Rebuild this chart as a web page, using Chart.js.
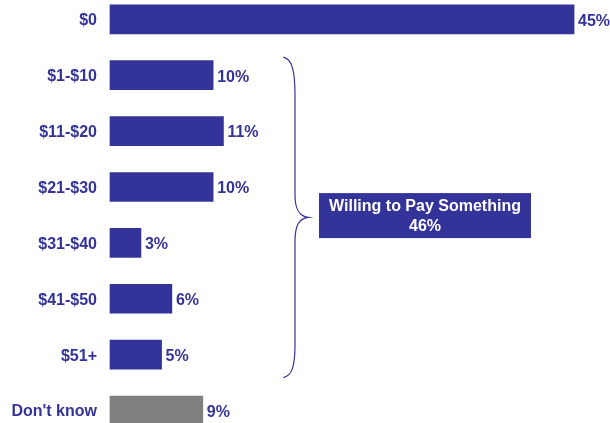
<!DOCTYPE html>
<html>
<head>
<meta charset="utf-8">
<script src="https://cdn.jsdelivr.net/npm/chart.js@4/dist/chart.umd.min.js"></script>
<style>
  html, body { margin: 0; padding: 0; background: #ffffff; overflow: hidden; }
  #wrap { position: relative; width: 610px; height: 423px; }
</style>
</head>
<body>
<div id="wrap"><canvas id="chart"></canvas></div>
<script>
// Amount respondents would pay
const categories = ['$0', '$1-$10', '$11-$20', '$21-$30', '$31-$40', '$41-$50', '$51+', "Don't know"];
const shares = [45, 10, 11, 10, 3, 6, 5, 9];
const barColors = ['#333399', '#333399', '#333399', '#333399', '#333399', '#333399', '#333399', '#808080'];

// Summary callout for the paid ranges
const calloutTitle = 'Willing to Pay Something';
const willingToPayTotal = 46;
const bracedFrom = 1;   // first braced category index
const bracedTo = 6;     // last braced category index

const NAVY = '#333399';
const FONT = '"Liberation Sans", Arial, Helvetica, sans-serif';

// Category names right-aligned beside the bars, percent labels at bar ends
const barLabels = {
  id: 'barLabels',
  afterDatasetsDraw(chart) {
    const ctx = chart.ctx;
    const meta = chart.getDatasetMeta(0);
    const yScale = chart.scales.y;
    ctx.save();
    ctx.font = 'bold 16px ' + FONT;
    ctx.fillStyle = NAVY;
    ctx.textBaseline = 'middle';
    ctx.textAlign = 'right';
    categories.forEach((name, i) => {
      ctx.fillText(name, chart.chartArea.left - 13, yScale.getPixelForValue(i) + 1.5);
    });
    ctx.textAlign = 'left';
    meta.data.forEach((bar, i) => {
      ctx.fillText(shares[i] + '%', bar.x + 4, bar.y + 2);
    });
    ctx.restore();
  }
};

// Brace grouping the paid ranges and the callout box
const braceCallout = {
  id: 'braceCallout',
  afterDraw(chart) {
    const ctx = chart.ctx;
    const y = chart.scales.y;
    const top = y.getPixelForValue(bracedFrom) - 18;
    const bot = y.getPixelForValue(bracedTo) + 23;
    const mid = (top + bot) / 2;
    const x0 = 283.3, xs = 295, xt = 308.3;

    ctx.save();
    ctx.strokeStyle = NAVY;
    ctx.lineWidth = 1.2;
    ctx.beginPath();
    ctx.moveTo(x0, top);
    ctx.bezierCurveTo(292, top + 2, xs, top + 13, xs, top + 38);
    ctx.lineTo(xs, mid - 23);
    ctx.bezierCurveTo(xs, mid - 8, xs + 4, mid - 1, xt, mid);
    ctx.bezierCurveTo(xs + 4, mid + 1, xs, mid + 8, xs, mid + 24);
    ctx.lineTo(xs, bot - 33);
    ctx.bezierCurveTo(xs, bot - 11, 292, bot - 2, x0, bot);
    ctx.stroke();

    // callout box
    const bx = 319, bw = 212, bh = 45;
    const by = mid - 24.3;
    ctx.fillStyle = NAVY;
    ctx.fillRect(bx, by, bw, bh);
    ctx.fillStyle = '#ffffff';
    ctx.font = 'bold 16px ' + FONT;
    ctx.textAlign = 'center';
    ctx.textBaseline = 'middle';
    ctx.fillText(calloutTitle, bx + bw / 2, by + 13);
    ctx.fillText(willingToPayTotal + '%', bx + bw / 2, by + 33);
    ctx.restore();
  }
};

new Chart(document.getElementById('chart'), {
  type: 'bar',
  data: {
    labels: categories,
    datasets: [{
      data: shares,
      backgroundColor: barColors,
      borderWidth: 0,
      barThickness: 29,
      clip: false
    }]
  },
  options: {
    indexAxis: 'y',
    responsive: true,
    maintainAspectRatio: false,
    animation: false,
    layout: { padding: { top: 19.3, bottom: 12.5, right: 5, left: 110 } },
    plugins: { legend: { display: false }, tooltip: { enabled: false } },
    scales: {
      x: {
        display: false,
        min: 0,
        max: 48
      },
      y: {
        display: false,
        offset: false
      }
    }
  },
  plugins: [barLabels, braceCallout]
});
</script>
</body>
</html>
